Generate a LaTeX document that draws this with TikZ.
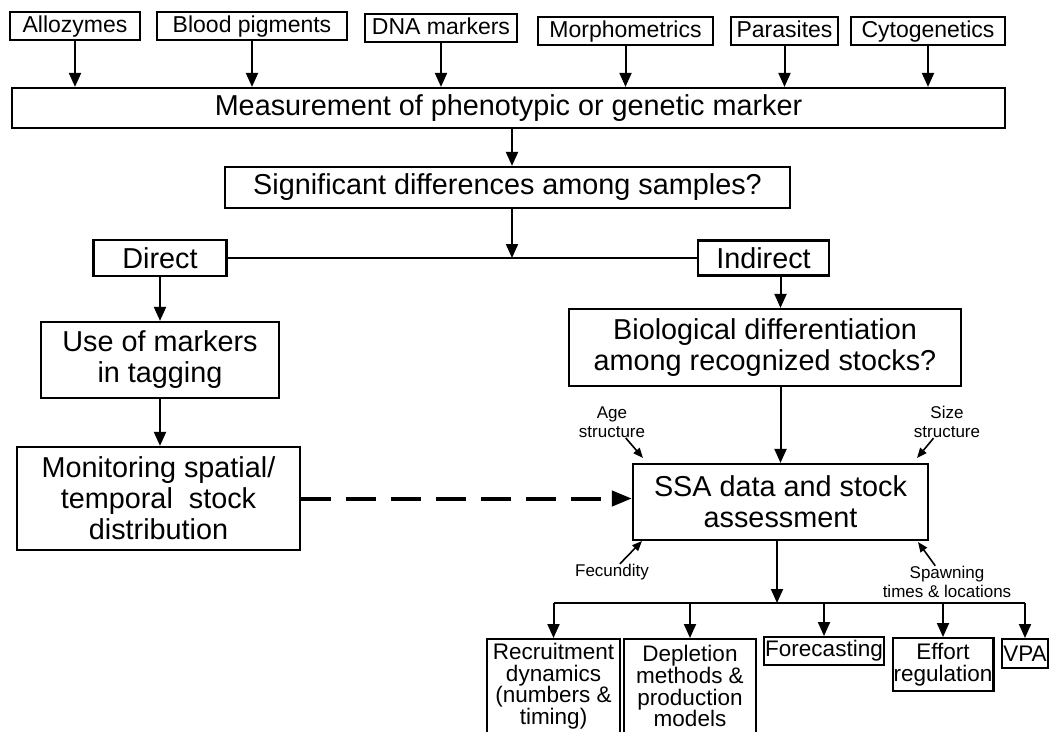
\documentclass[tikz,border=0pt]{standalone}
\usepackage{fontspec}
\setmainfont{Liberation Sans}
\usepackage{tikz}
\usetikzlibrary{arrows.meta}
\newcommand{\BoxFont}{\fontsize{28.8}{31}\selectfont}
\newcommand{\TopFont}{\fontsize{23}{26}\selectfont}
\newcommand{\LeafFont}{\fontsize{22.5}{21.8}\selectfont}
\newcommand{\NoteFont}{\fontsize{17}{19.5}\selectfont}

\begin{document}
\begin{tikzpicture}[x=1pt,y=-1pt]
		\clip (0,0) rectangle (1052,731);
		\tikzstyle{every node}=[font=\BoxFont]
		\tikzset{BoxStyle/.style = {draw=black,line width=2.2pt,shape=rectangle,align=center,inner sep=1pt}}
		\tikzset{TopStyle/.style = {BoxStyle,font=\TopFont,minimum height=28pt,text height=16.5pt,text depth=4.5pt}}
		\tikzset{LeafStyle/.style = {BoxStyle,font=\LeafFont}}
		\tikzset{NoteStyle/.style = {align=center,inner sep=0pt,font=\NoteFont}}
		\tikzset{EdgeStyle/.style = {line width=2pt,-{Triangle[length=14pt,width=12pt]}}}
		\tikzset{NoteEdge/.style = {line width=1.6pt,-{Triangle[length=10pt,width=8pt]}}}
		% markers
		\node[TopStyle,minimum width=130pt] (allozymes) at (75,26) {Allozymes};
		\node[TopStyle,minimum width=190pt] (blood) at (252,26) {Blood pigments};
		\node[TopStyle,minimum width=152pt] (dna) at (441,28) {DNA markers};
		\node[TopStyle,minimum width=175pt] (morpho) at (625.5,31) {Morphometrics};
		\node[TopStyle,minimum width=107pt] (parasites) at (784.5,31) {Parasites};
		\node[TopStyle,minimum width=154pt] (cyto) at (928,31) {Cytogenetics};
		\node[BoxStyle,minimum width=993pt,minimum height=40pt] (measurement) at (508.5,108) {Measurement of phenotypic or genetic marker};
		\node[BoxStyle,minimum width=565pt,minimum height=41pt] (samples) at (507.5,187.5) {Significant differences among samples?};
		\coordinate (split) at (512,258);
		\node[BoxStyle,minimum width=133pt,minimum height=36pt] (direct) at (160,258) {Direct};
		\node[BoxStyle,minimum width=131pt,minimum height=35pt] (indirect) at (763.5,258) {Indirect};
		\node[BoxStyle,minimum width=238pt,minimum height=76pt] (tagging) at (160,360) {Use of markers\\in tagging};
		\node[BoxStyle,minimum width=283pt,minimum height=103pt] (monitoring) at (158.5,498.5) {Monitoring spatial/\\temporal\ \ stock\\distribution};
		\node[BoxStyle,minimum width=392pt,minimum height=77pt] (biodiff) at (765,347.5) {Biological differentiation\\among recognized stocks?};
		\node[BoxStyle,minimum width=295pt,minimum height=76pt] (ssa) at (780.5,502) {SSA data and stock\\assessment};
		% inputs to SSA
		\node[NoteStyle] (age) at (612,422) {Age\\structure};
		\node[NoteStyle] (size) at (947,422) {Size\\structure};
		\node[NoteStyle] (fecundity) at (612,572) {Fecundity};
		\node[NoteStyle] (spawning) at (947,582) {Spawning\\times \& locations};
		\coordinate (agetip) at (643,458);
		\coordinate (sizetip) at (917,458);
		\coordinate (fectip) at (642,541);
		\coordinate (spawntip) at (918,542);
		% uses
		\coordinate (fan) at (777,603);
		\node[LeafStyle,minimum width=133pt,minimum height=94pt,anchor=north] (recruit) at (553.5,638) {Recruitment\\dynamics\\(numbers \&\\timing)};
		\node[LeafStyle,minimum width=132pt,minimum height=94pt,anchor=north] (depletion) at (690,638) {Depletion\\methods \&\\production\\models};
		\node[LeafStyle,minimum width=120pt,minimum height=28pt,anchor=north] (forecast) at (824,636) {Forecasting};
		\node[LeafStyle,minimum width=100pt,minimum height=53pt,anchor=north] (effort) at (943,637) {Effort\\regulation};
		\node[LeafStyle,minimum width=46pt,minimum height=29pt,anchor=north] (vpa) at (1025,638) {VPA};
		\foreach \n in {allozymes,blood,dna,morpho,parasites,cyto}
			\draw[EdgeStyle] (\n.south) -- (\n.south |- measurement.north);
		\draw[EdgeStyle] (measurement.south -| split) -- (samples.north -| split);
		\draw[EdgeStyle] (samples.south -| split) -- (split);
		\draw[line width=2pt] (direct) -- (indirect);
		\draw[EdgeStyle] (direct) -- (tagging);
		\draw[EdgeStyle] (tagging) -- (tagging |- monitoring.north);
		\draw[EdgeStyle] (indirect.south -| ssa) -- (biodiff.north -| ssa);
		\draw[EdgeStyle] (biodiff.south -| ssa) -- (ssa);
		\draw[line width=4pt,dash pattern=on 30pt off 15pt,-{Triangle[length=20pt,width=15pt]}] (monitoring) -- (monitoring -| ssa.west);
		\draw[NoteEdge] (age) -- (agetip);
		\draw[NoteEdge] (size) -- (sizetip);
		\draw[NoteEdge] (fecundity) -- (fectip);
		\draw[NoteEdge] (spawning) -- (spawntip);
		\draw[EdgeStyle] (ssa.south -| fan) -- (fan);
		\draw[line width=2pt] (fan -| recruit) -- (fan -| vpa);
		\foreach \n in {recruit,depletion,forecast,effort,vpa}
			\draw[EdgeStyle] (fan -| \n) -- (\n);
	\end{tikzpicture}
\end{document}
